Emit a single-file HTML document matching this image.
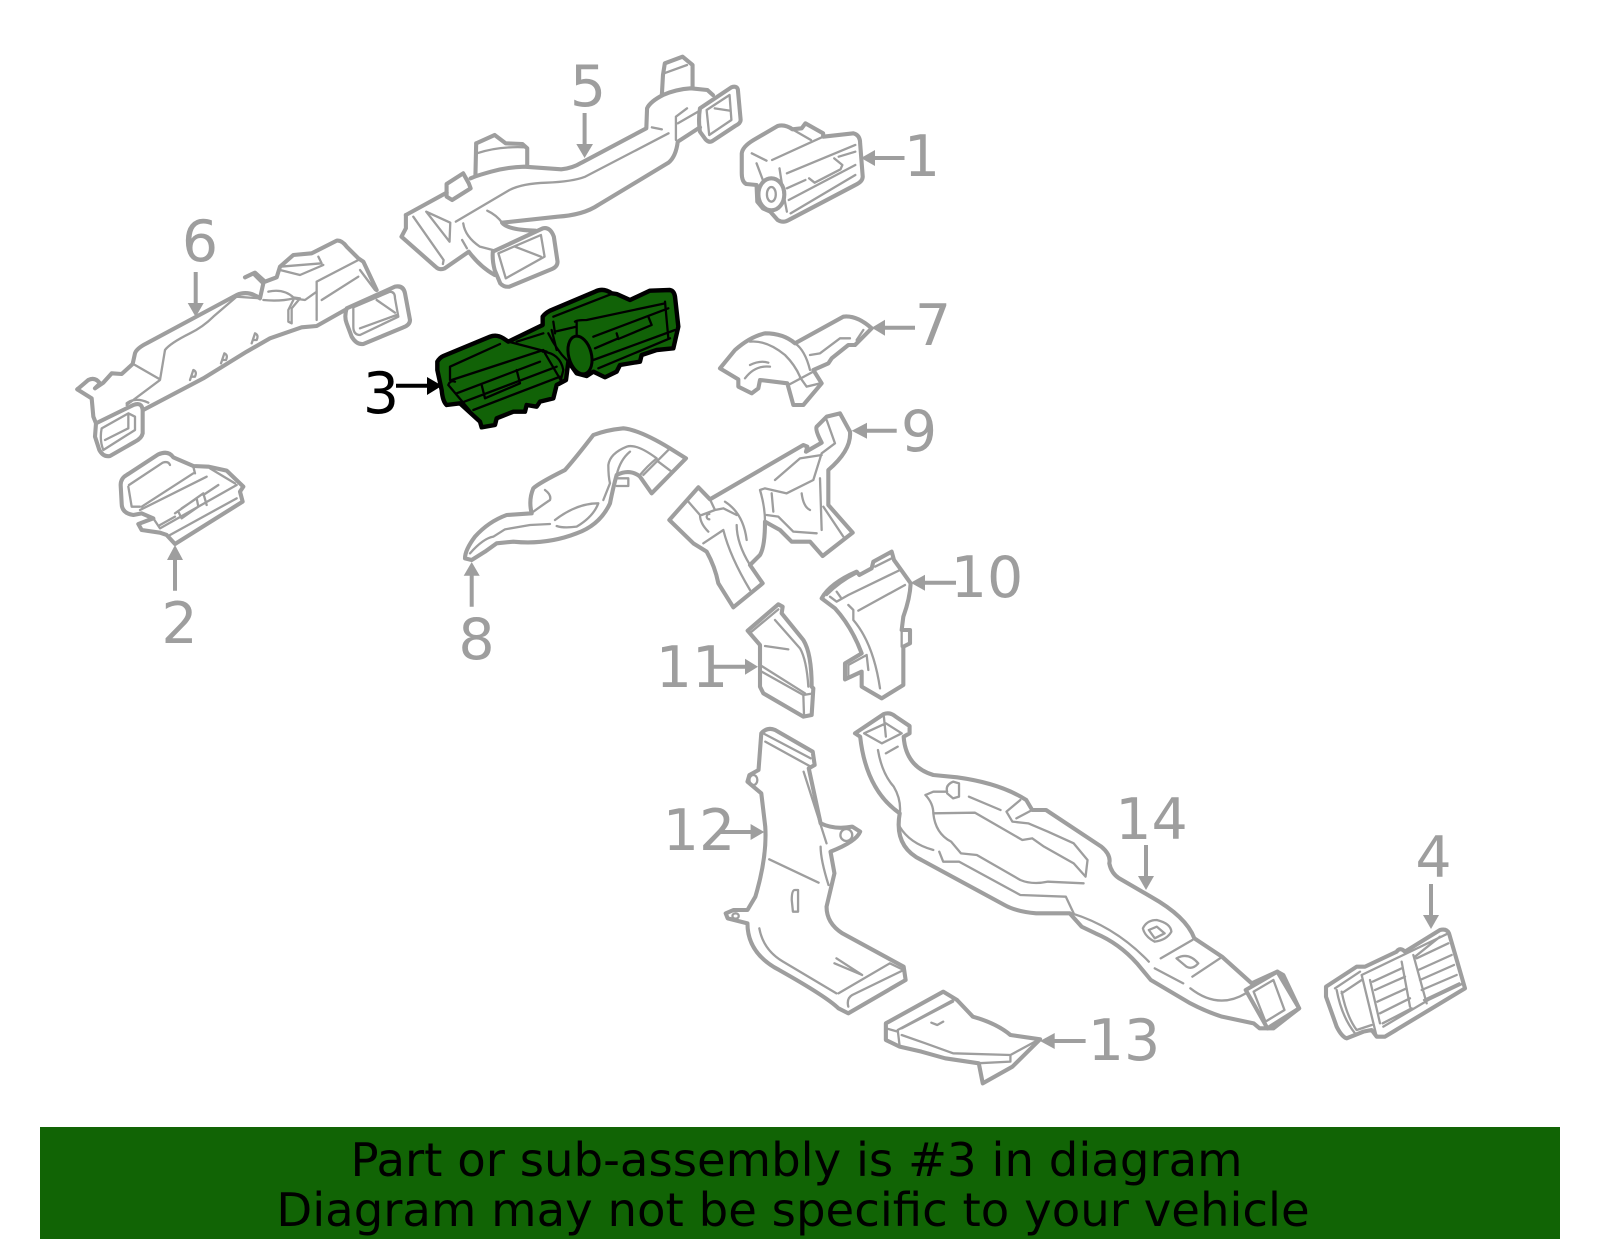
<!DOCTYPE html>
<html><head><meta charset="utf-8"><style>
html,body{margin:0;padding:0;background:#fff}
svg{display:block}
path,ellipse,line{vector-effect:non-scaling-stroke}
.o path,.o ellipse{fill:none;stroke:#9e9e9e;stroke-width:4.1;stroke-linejoin:round;stroke-linecap:round}
.o .i{stroke-width:2.3}
.b path,.b ellipse{fill:none;stroke:#000;stroke-width:2.3;stroke-linejoin:round;stroke-linecap:round}
.b .f{fill:#116207;stroke-width:4.4}
.s{stroke:#9e9e9e;stroke-width:4;fill:none}
.h{fill:#9e9e9e}
text{font-family:"DejaVu Sans","Liberation Sans",sans-serif}
.n{font-size:57px;fill:#9e9e9e;text-anchor:middle}
</style></head><body>
<svg width="1600" height="1249" viewBox="0 0 1600 1249" xmlns="http://www.w3.org/2000/svg">
<rect width="1600" height="1249" fill="#fff"/>

<!-- parts 5 and 1 -->
<g class="o" transform="translate(380,40) scale(.3699,.33333)">
<path d="M70,525L180,458M245,415Q258,408 300,395Q340,382 390,380L490,388Q520,385 545,368L720,265L722,205Q730,185 765,165Q800,148 840,145L885,150L900,165"/>
<path d="M180,432L225,400L240,430L245,445L195,480L180,470Z"/>
<path d="M762,165L765,105L770,70L818,50L845,75L845,145"/>
<path d="M865,205L950,142Q968,135 968,155L975,240Q975,250 960,258L900,302Q890,310 880,298L865,275Q860,240 865,205Z"/>
<path d="M865,262L805,305Q800,350 780,368L590,495Q550,525 480,530L330,548Q345,570 420,572"/>
<path d="M305,635L440,565Q460,560 470,590L480,665Q480,680 465,687L350,740Q335,742 325,730L310,690Q303,660 305,635Z"/>
<path d="M70,525L70,565L58,590L150,680Q160,692 175,685L240,635Q270,680 310,705"/>
<path d="M260,310L310,285L340,310L385,312L398,325L398,380M260,310L258,405"/>
<path class="i" d="M883,210L945,165L950,240L890,285ZM905,205L945,212M320,640L435,585L445,650L340,715ZM365,620L435,650"/>
<path class="i" d="M205,545L350,450Q385,430 450,428Q520,425 555,410L780,280M800,300L800,230L830,205M805,250L860,215M735,262L762,268M262,340Q320,318 395,322M125,515L190,548L188,605ZM90,530L172,660L170,672M225,550Q230,590 270,620L305,630M222,600L235,625M768,100L830,75M290,512Q315,525 330,548"/>
<path d="M978,340Q980,320 1010,300L1075,258Q1095,252 1115,268L1140,265L1150,250L1198,280L1198,290L1280,280Q1298,285 1298,310L1305,410Q1305,425 1285,435L1105,540Q1090,550 1075,540L1055,515L1035,505L1020,485L1018,435L990,432Q978,425 978,400Z"/>
<ellipse cx="1058" cy="463" rx="35" ry="48"/>
<path class="i" d="M1005,340L1045,362M1060,360L1198,290M1115,268L1165,300M1018,370L1035,420M1080,385Q1090,460 1100,515M1100,400L1285,315M1100,445L1150,420M1228,355L1250,375L1245,388L1175,428L1160,415M1105,480L1285,375M1110,520L1285,405M1240,350L1285,335"/>
<ellipse class="i" cx="1058" cy="463" rx="12" ry="22"/>
</g>

<!-- part 3 -->
<g class="b" transform="translate(360,270) scale(.33333)">
<path class="f" d="M232,275Q240,262 250,258L390,200Q410,192 430,205L445,215L548,165L548,140Q555,130 570,122L705,65Q730,52 755,70L770,72L810,90L870,62L930,60Q942,62 945,80L955,170L940,235L890,240L845,255L840,275L780,285L770,305L735,322L700,305L680,318L650,310L625,275L618,330L590,345L580,385L540,395L530,410L500,405L495,425L460,425L410,445L405,465L365,472L360,455L300,400L260,405Q248,395 245,360L232,300Z"/>
<path d="M270,330L270,290L420,222M275,330L550,240M445,215L560,245M265,345Q270,330 285,335M265,345L345,440M290,370L540,275M300,400L590,290M340,420L600,320M365,345L375,385L480,340L470,300M548,245Q600,250 610,300L600,340M555,250L605,335"/>
<ellipse class="f" style="stroke-width:3" cx="660" cy="255" rx="34" ry="58" transform="rotate(-15 660 255)"/>
<path d="M645,155Q650,150 680,150L915,100M650,155L650,195M700,200L925,115M705,235L775,205M770,190L775,207L875,165L865,140M700,270L945,180M715,295L930,205M580,140L760,70M470,215L550,190M575,180L590,240M565,190Q590,240 620,270M585,185L650,170M580,155L585,190M915,95L925,205"/>
</g>
<path d="M396,385.7H428" stroke="#000" stroke-width="4" fill="none"/>
<polygon points="427,377 442,385.7 427,395" fill="#000"/>

<!-- parts 6 and 2 -->
<g class="o" transform="translate(60,220) scale(.33333)">
<path d="M52,508L85,480Q105,470 120,490L105,505L130,488L155,460L185,462L218,432L225,400Q230,385 260,370L530,225Q565,210 600,235L610,190L580,160L555,172L585,158L615,185L650,172L660,140L700,105L755,100L830,62Q845,60 860,80L895,115L910,125L950,210"/>
<path d="M860,265L1005,200Q1030,195 1035,220L1050,300Q1050,315 1030,322L910,372Q890,375 875,350L860,310Q852,290 860,265Z"/>
<path d="M855,270L770,318L725,322L630,355L560,395L430,475L250,570"/>
<path d="M52,508L95,535L100,590L108,610L220,555Q245,545 248,570L248,640Q245,655 225,665L150,708Q130,712 118,690L105,650L108,610"/>
<path class="i" d="M880,262L990,215Q1005,215 1005,235L1015,290L900,345Q880,345 880,320ZM900,325L1010,285M950,240L1005,278M125,625L205,580L225,590L225,630L130,690Q118,660 125,625ZM135,660L205,625L205,585"/>
<path class="i" d="M200,555L300,480L315,390Q330,370 390,340Q430,320 460,290L530,230L600,235M225,435L300,478M390,480L400,450Q412,455 405,470L395,470M483,430L493,400Q505,405 498,420L488,420M575,370L585,340Q597,345 590,360L580,360M200,550Q225,530 265,548"/>
<path class="i" d="M610,240Q660,245 700,235L735,240L770,215M625,215Q670,205 700,232L720,235L695,265L695,310L685,305L685,270L700,240M770,185L770,300M770,185L895,120M785,240L895,170M900,150L945,210M660,140L785,130L775,110M660,150L720,165L790,135"/>
<path d="M220,885Q185,880 185,850L182,795Q182,775 200,765L295,703Q325,690 340,712L400,738L445,740L500,752L550,800L540,815L548,845L345,972L320,945L300,938L245,930L235,912L280,895L245,880Z"/>
<path class="i" d="M207,795L308,728Q325,722 330,735M205,800L215,860L240,860M245,860L400,760M400,740L405,760M240,870L440,770M280,895L300,925L530,795M330,945L530,835M300,915L345,890M345,880L430,820L440,855M355,875L365,895L415,860L410,835L365,865M430,825L475,795M450,745L525,790"/>
</g>

<!-- parts 8, 9, 11 -->
<g class="o" transform="translate(450,400) scale(.33333)">
<path d="M45,475Q45,450 75,410Q115,365 170,345L245,340Q235,300 250,265Q265,250 345,210Q380,170 430,105Q470,90 520,85Q570,90 660,145L708,175L605,280L570,230Q540,205 500,225Q490,260 480,310Q450,375 380,400Q290,435 190,425L140,430L105,455L65,480Z"/>
<path class="i" d="M660,145L580,225M625,185L665,215M250,335Q285,310 300,300Q305,285 285,270M570,225Q590,200 620,175Q560,130 530,140Q480,160 475,195Q475,230 480,250L460,300M540,155Q510,180 500,225M500,235H535V258H500M60,460Q100,415 130,410L165,388L240,375L300,372M315,360Q380,310 445,310Q430,350 380,380Q340,385 320,378"/>
<path d="M658,360L745,262L780,298L1060,135L1072,140L1068,155L1115,128Q1095,90 1100,80L1130,50L1170,40L1200,95Q1205,150 1135,210L1135,315L1208,398L1118,468L1080,425L1025,425L990,390L945,365Q945,440 930,465L900,495L938,550L850,622L805,550Q795,500 770,455L730,430Z"/>
<path class="i" d="M715,305L750,345Q750,370 775,395M780,298L795,330L820,325L860,345M755,345L795,330M825,305Q880,340 890,420M860,375Q860,430 900,495M760,430L820,390Q840,470 900,570M930,270L945,265L1010,280Q1040,265 1090,240L1115,160L1155,130L1130,60M930,270Q945,320 945,365M965,280L970,335M950,345L985,350L1030,395L1100,400M1110,235L1115,390M1055,280Q1060,320 1080,330M975,240L1050,175L1115,165M1120,320L1180,410"/>
<path class="i" d="M778,342A8,8 0 1 0 778,358"/>
<path d="M893,692L985,613L998,620L995,640L1060,720Q1085,760 1085,860L1090,865L1085,945L1060,950L940,880L930,860L930,735Z"/>
<path class="i" d="M905,695L985,628M975,660L1050,745Q1070,780 1075,860M945,738L1015,748M930,795L1065,880M935,815L1060,885L1090,880M1060,885L1062,945"/>
</g>

<!-- part 10 -->
<g class="o" transform="translate(820,540) scale(.33333)">
<path d="M5,175Q30,130 110,95L118,105L155,85L160,65L215,35L222,60L240,85L272,130Q270,175 250,230L245,270L270,270L270,310L250,320L250,435L185,475L125,440L125,395L75,418L75,370L125,340Q95,260 45,205Z"/>
<path class="i" d="M20,165Q60,125 110,100M165,80L215,55M30,170L50,185L85,165L240,90M85,195L100,210L100,240Q160,310 180,445M115,212L255,135M50,155L62,172M85,375L140,345L145,390M245,270L245,320M85,375L85,410"/>
</g>

<!-- part 7 -->
<g class="o" transform="translate(700,290) scale(.33333)">
<path d="M60,235L105,180Q150,140 195,130Q250,130 285,160L430,80Q470,75 515,115L465,165L445,165L395,205L385,220L340,240L365,280L310,345L280,345L262,280L180,270L175,295L155,310L115,290L115,268Z"/>
<path class="i" d="M150,155Q200,150 255,195Q285,225 300,260M285,160Q315,180 330,240M135,265Q165,225 210,230M150,225Q180,210 205,218M330,195L360,190L420,145L450,145M265,285L340,245M300,262L320,290L360,280M490,120L470,150"/>
</g>

<!-- parts 12, 13, 14 -->
<g class="o" transform="translate(700,700) scale(.39545,.33333)">
<path d="M155,100Q170,80 190,90L285,155L290,195L275,205L305,370Q340,390 385,380L405,395Q395,425 330,455L340,520L320,620Q320,670 360,700L515,800L520,840L375,940L350,925Q320,890 200,810Q120,760 120,670L70,655L65,640L85,630L120,630L140,590Q170,470 165,380L155,280L120,245L125,225L148,210Z"/>
<path class="i" d="M165,125L280,200M160,100L280,175M262,215L320,430M305,440Q305,480 325,555M175,478L300,548M240,570Q232,570 232,600L235,635L248,635L248,570ZM150,685Q160,750 210,785L345,880M350,880L480,790L515,810M375,920Q370,895 385,885L515,810M340,790L410,825L345,775"/>
<ellipse class="i" cx="135" cy="240" rx="10" ry="15"/><ellipse class="i" cx="370" cy="405" rx="15" ry="18"/><ellipse class="i" cx="90" cy="648" rx="8" ry="8"/>
<path d="M470,970L615,875L650,900L690,950Q750,970 785,1005L860,1018L790,1100L715,1150L705,1090L620,1075L560,1055L505,1040L470,1020Z"/>
<path class="i" d="M500,990L640,900M510,985L640,905M500,990L505,1040M470,985L500,995M510,1005L570,1030L640,1060L785,1065L855,1020M700,1090L785,1085L785,1065M585,968L600,975L615,965"/>
<path d="M392,100L465,42Q480,35 495,50L530,78L530,100L515,110Q520,200 590,225L650,232Q760,250 825,300L840,330L875,330L1015,440Q1040,465 1035,490Q1040,520 1060,535L1140,590Q1230,650 1250,715L1320,770L1395,850L1460,815L1475,825L1515,925L1450,985L1415,985L1400,970L1320,950Q1280,935 1240,910L1140,840L1105,790Q1060,730 1000,700L965,680L935,640L850,640Q800,635 770,615L560,480Q490,440 505,340Q420,270 405,110Z"/>
<path class="i" d="M415,100L470,70L510,100L460,130ZM465,50L470,110M450,150Q460,220 490,260Q510,300 505,345M470,160L500,140M505,380Q530,430 590,450M605,455L615,485L655,485L810,585L925,590L945,640M570,285L590,275L625,275Q620,255 640,245L655,250L655,290L640,295L625,280M680,290L760,330M570,285Q590,310 590,340L695,338L815,420L840,415L870,440L945,490L975,530L980,480L945,430L880,395L830,370L790,365L775,335L810,300M800,355L840,330M590,340Q595,400 635,425L660,460L700,465L810,540Q840,555 880,545L970,550M940,640Q1050,680 1135,785M1120,685Q1130,660 1155,660Q1190,670 1192,695Q1180,720 1150,725Q1125,710 1120,685ZM1135,690L1155,680L1175,700L1150,715ZM1205,775Q1235,755 1260,790Q1245,810 1230,800ZM1165,775L1245,720M1245,830L1315,775M1150,805L1222,850M1240,865Q1310,930 1380,880M1400,875L1450,840L1478,930L1430,965Z"/>
<path d="M1380,870L1460,815L1515,925L1435,985Z"/>
</g>

<!-- part 4 -->
<g class="o" transform="translate(1300,840) scale(.33333)">
<path d="M78,440L170,380L195,380L290,335Q300,320 315,335L420,270Q440,265 447,280L495,445L255,590L230,590L215,570L190,575L140,595Q125,590 110,560L78,470Z"/>
<path class="i" d="M185,405L445,280M105,445L180,395M110,450Q125,530 165,580M125,460L185,420M125,455Q140,530 170,570L215,555M185,405L230,590M210,420L240,550M305,365L330,500M340,345L380,490M345,350L420,290M350,355L445,310M355,390L455,345M360,420L462,375M365,450L470,405M372,480L478,430M218,425L305,385M225,450L315,410M232,485L320,445M240,520L330,475M248,550L335,505M250,560L385,480L490,430"/>
</g>

<!-- arrows -->
<path class="s" d="M584.6,113V146M875,158H904.5M195.7,272V305M175,560V590.7M885,327.7H915M867,430.7H896.7M471.7,575V606.7M925,582.7H956M713,666.7H746M720,832H751M1054,1041H1085.6M1146,845V877M1431,884V916"/>
<polygon class="h" points="576.3,144 593,144 584.6,158"/>
<polygon class="h" points="875,150 875,166 861,158"/>
<polygon class="h" points="187.7,303 203.7,303 195.7,317"/>
<polygon class="h" points="167,560 183,560 175,545"/>
<polygon class="h" points="885,319.7 885,335.7 871.7,327.7"/>
<polygon class="h" points="867,422.7 867,438.7 851.7,430.7"/>
<polygon class="h" points="463.7,575.7 479.7,575.7 471.7,562"/>
<polygon class="h" points="925,574.7 925,590.7 910.7,582.7"/>
<polygon class="h" points="745,658.7 745,674.7 758,666.7"/>
<polygon class="h" points="750.6,824 750.6,840 764.4,832"/>
<polygon class="h" points="1054.7,1033 1054.7,1049 1040,1041"/>
<polygon class="h" points="1138,876 1154,876 1146,890"/>
<polygon class="h" points="1423,915 1439,915 1431,929"/>

<!-- labels -->
<text class="n" x="588" y="106">5</text>
<text class="n" x="922" y="176">1</text>
<text class="n" x="200" y="261">6</text>
<text class="n" x="179.5" y="643">2</text>
<text class="n" x="933" y="345">7</text>
<text class="n" x="919" y="451">9</text>
<text class="n" x="476.5" y="659">8</text>
<text class="n" x="987" y="597">10</text>
<text class="n" x="692" y="687">11</text>
<text class="n" x="699" y="850">12</text>
<text class="n" x="1151.5" y="839">14</text>
<text class="n" x="1124" y="1060">13</text>
<text class="n" x="1433.5" y="877">4</text>
<text class="n" x="381" y="413" style="fill:#000">3</text>

<!-- banner -->
<rect x="40" y="1127" width="1520" height="112" fill="#116405"/>
<text x="796.5" y="1176" font-size="46.6" text-anchor="middle" fill="#000">Part or sub-assembly is #3 in diagram</text>
<text x="793" y="1226" font-size="46.6" text-anchor="middle" fill="#000">Diagram may not be specific to your vehicle</text>
</svg>
</body></html>
